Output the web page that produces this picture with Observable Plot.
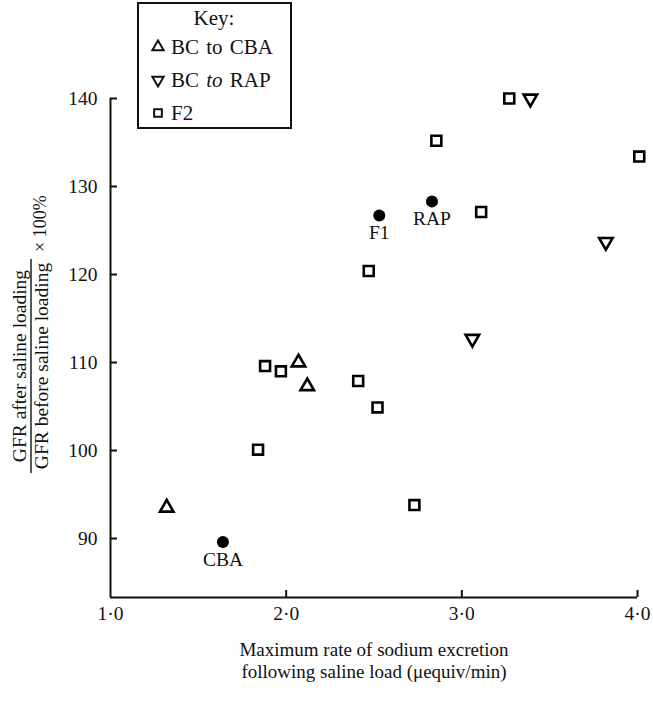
<!DOCTYPE html>
<html>
<head>
<meta charset="utf-8">
<script src="https://cdn.jsdelivr.net/npm/d3@7"></script>
<script src="https://cdn.jsdelivr.net/npm/@observablehq/plot@0.6"></script>
<style>
  body { margin: 0; background: #fff; }
  #chart svg { display: block; }
</style>
</head>
<body>
<div id="chart"></div>
<script>
// Maximum sodium excretion rate (µequiv/min) against GFR after/before saline loading (%)
const cbaX = [1.32, 2.07, 2.12];
const cbaY = [93.5, 110.0, 107.3];
const rapX = [3.39, 3.82, 3.06];
const rapY = [140.0, 123.7, 112.7];
const f2X = [1.84, 1.88, 1.97, 2.41, 2.52, 2.47, 2.73, 2.855, 3.11, 3.27, 4.01];
const f2Y = [100.1, 109.6, 109.0, 107.9, 104.9, 120.4, 93.8, 135.2, 127.1, 140.0, 133.4];
const parentNames = ["CBA", "F1", "RAP"];
const parentX = [1.64, 2.53, 2.83];
const parentY = [89.6, 126.7, 128.3];

const xTicks = [1, 2, 3, 4];
const xTickLabels = ["1·0", "2·0", "3·0", "4·0"];
const yTicks = [90, 100, 110, 120, 130, 140];
const yTickLabels = ["90", "100", "110", "120", "130", "140"];
const keyTitle = "Key:";
const keyLabels = ["BC to CBA", "BC to RAP", "F2"];
const xTitle = "Maximum rate of sodium excretion\nfollowing saline load (\u03bcequiv/min)";
const yNumerator = "GFR after saline loading";
const yDenominator = "GFR before saline loading";
const yFactor = "\u00d7 100%";

const serif = "'Liberation Serif', 'DejaVu Serif', serif";
const xDomain = [1, 4];
const yDomain = [83.3, 140];

const rows = (xs, ys) => xs.map((x, i) => ({x, y: ys[i]}));
const parents = parentNames.map((name, i) => ({name, x: parentX[i], y: parentY[i]}));

const chart = Plot.plot({
  width: 653,
  height: 715,
  marginLeft: 110,
  marginRight: 16,
  marginTop: 98,
  marginBottom: 118,
  style: {fontFamily: serif, fontSize: "19px", color: "#111", background: "white"},
  x: {domain: xDomain},
  y: {domain: yDomain},
  marks: [
    // axis lines
    Plot.ruleX([xDomain[0]], {y1: yTicks[yTicks.length - 1], y2: yDomain[0], strokeWidth: 2}),
    Plot.ruleY([yDomain[0]], {x1: xDomain[0], x2: xDomain[1], strokeWidth: 2}),
    // inward ticks
    Plot.axisY(yTicks, {tickSize: 7, dx: 7, fill: "none", label: null, strokeWidth: 2}),
    Plot.axisX(xTicks.slice(1), {tickSize: 7, dy: -7, fill: "none", label: null, strokeWidth: 2}),
    // tick labels
    Plot.axisY(yTicks, {tickSize: 0, tickPadding: 13, label: null, fontSize: 19.5,
      tickFormat: d => yTickLabels[yTicks.indexOf(d)]}),
    Plot.axisX(xTicks, {tickSize: 0, tickPadding: 9, label: null, fontSize: 19.5,
      tickFormat: d => xTickLabels[xTicks.indexOf(d)]}),
    // x title
    Plot.text([xTitle], {text: d => d, frameAnchor: "bottom", lineAnchor: "top", dy: 42,
      fontSize: 19, lineHeight: 1.2}),
    // strains
    Plot.dot(rows(f2X, f2Y), {x: "x", y: "y", symbol: "square", r: 5.6, fill: "white",
      stroke: "black", strokeWidth: 2.6}),
    Plot.dot(rows(cbaX, cbaY), {x: "x", y: "y", symbol: "triangle", r: 5, fill: "white",
      stroke: "black", strokeWidth: 2.6}),
    Plot.dot(rows(rapX, rapY), {x: "x", y: "y", symbol: "triangle", rotate: 180, r: 5,
      fill: "white", stroke: "black", strokeWidth: 2.6}),
    // parental strains and F1
    Plot.dot(parents, {x: "x", y: "y", r: 6, fill: "black"}),
    Plot.text(parents, {x: "x", y: "y", text: "name", lineAnchor: "top", dy: 10, fontSize: 19.5})
  ]
});

document.getElementById("chart").append(chart);

const svg = d3.select(chart);

// y-axis title set as a fraction
const yl = svg.append("g")
  .attr("transform", "translate(31,366) rotate(-90)")
  .attr("font-family", serif)
  .attr("font-size", 19.5)
  .attr("fill", "#111")
  .attr("text-anchor", "middle");
yl.append("text").attr("y", -5).text(yNumerator);
yl.append("line").attr("x1", -107).attr("x2", 107)
  .attr("stroke", "#111").attr("stroke-width", 1.4);
yl.append("text").attr("y", 17).text(yDenominator);
yl.append("text").attr("x", 114).attr("y", 15).attr("text-anchor", "start")
  .attr("font-size", 18).text(yFactor);

// key box
const key = svg.append("g")
  .attr("font-family", serif)
  .attr("font-size", 21)
  .attr("fill", "#111")
  .attr("text-anchor", "start");
key.append("rect").attr("x", 138).attr("y", 3).attr("width", 153).attr("height", 125)
  .attr("fill", "white").attr("stroke", "#111").attr("stroke-width", 2);
key.append("text").attr("x", 214).attr("y", 25).attr("text-anchor", "middle").text(keyTitle);
const keySymbols = [
  {type: d3.symbolTriangle, rotate: 0},
  {type: d3.symbolTriangle, rotate: 180},
  {type: d3.symbolSquare, rotate: 0}
];
keyLabels.forEach((label, i) => {
  const cy = 47 + i * 33;
  key.append("path")
    .attr("d", d3.symbol(keySymbols[i].type, i === 2 ? 60 : 55)())
    .attr("transform", `translate(158,${cy}) rotate(${keySymbols[i].rotate})`)
    .attr("fill", "white").attr("stroke", "#111").attr("stroke-width", 2);
  const t = key.append("text").attr("x", 171).attr("y", cy + 7).attr("word-spacing", 2);
  if (i === 1) {
    t.append("tspan").text("BC ");
    t.append("tspan").attr("font-style", "italic").text("to");
    t.append("tspan").text(" RAP");
  } else {
    t.text(label);
  }
});
</script>
</body>
</html>
